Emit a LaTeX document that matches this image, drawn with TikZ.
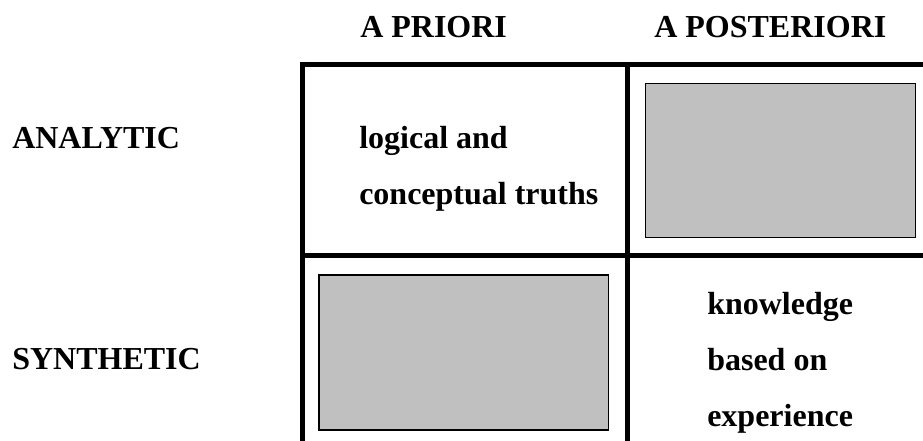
\documentclass[tikz,border=0pt]{standalone}
\usepackage{fontspec}
\setmainfont{Liberation Serif}
\tikzset{
    head/.style={anchor=base west,inner sep=0pt,font=\fontsize{24}{42}\selectfont\bfseries,align=left},
    gridline/.style={line width=3.75pt},
    emptycell/.style={fill={rgb,255:red,192;green,192;blue,192},draw=black,line width=1.1pt}
}
\begin{document}
\begin{tikzpicture}[x=0.75pt,y=-0.75pt]
            \useasboundingbox (0,0) rectangle (923,441);
            \node[head] (priori) at (360,37.5) {A PRIORI};
            \node[head] (posteriori) at (654,37.5) {A POSTERIORI};
            \node[head] (analytic) at (12,149) {ANALYTIC};
            \node[head] (synthetic) at (12,369) {SYNTHETIC};
            \node[head] (logical) at (359,205) {logical and\\conceptual truths};
            \node[head] (experience) at (707,426) {knowledge\\based on\\experience};
            \draw[gridline] (300,64.5) -- (923,64.5);
            \draw[gridline] (300,256) -- (923,256);
            \draw[gridline] (302.5,62) -- (302.5,441);
            \draw[gridline] (627.5,62) -- (627.5,441);
            \draw[emptycell] (645.7,83.3) rectangle (915.7,237.3);
            \draw[emptycell] (319,275) rectangle (608.3,430);
        \end{tikzpicture}
\end{document}
